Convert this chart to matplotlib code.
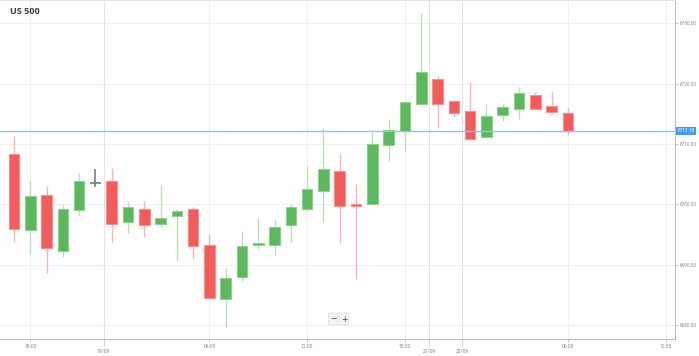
import numpy as np
import matplotlib.pyplot as plt
import matplotlib.transforms as mtransforms
from matplotlib.patches import Rectangle

# hourly candles, US 500
opens = [6708.29, 6695.74, 6701.59, 6692.26, 6699.06, 6703.53, 6703.82, 6697.02, 6699.27,
         6696.74, 6698.06, 6699.27, 6693.26, 6684.23, 6687.96, 6693.26, 6693.21, 6696.52,
         6699.22, 6702.26, 6705.57, 6699.97, 6700.05, 6709.78, 6712.15, 6716.58, 6720.72,
         6717.12, 6715.42, 6711.11, 6714.80, 6715.80, 6718.17, 6716.24, 6715.13]
highs = [6711.32, 6704.03, 6703.09, 6699.84, 6705.14, 6705.85, 6705.97, 6700.55, 6700.55,
         6703.15, 6699.27, 6699.61, 6695.03, 6689.50, 6695.58, 6697.78, 6697.57, 6700.05,
         6706.35, 6712.60, 6708.34, 6703.37, 6712.32, 6714.14, 6717.17, 6731.76, 6721.27,
         6717.12, 6720.27, 6716.68, 6716.68, 6719.49, 6718.61, 6718.66, 6715.91]
lows = [6693.81, 6691.77, 6688.57, 6691.22, 6698.06, 6702.82, 6693.81, 6695.30, 6694.53,
        6696.03, 6690.61, 6690.99, 6684.42, 6679.72, 6687.29, 6692.55, 6691.65, 6693.81,
        6698.84, 6697.12, 6693.54, 6687.57, 6700.05, 6707.13, 6708.89, 6716.58, 6712.60,
        6714.42, 6710.78, 6711.11, 6713.86, 6714.14, 6715.80, 6715.08, 6711.44]
closes = [6695.96, 6701.33, 6692.71, 6699.27, 6703.82, 6703.53, 6696.74, 6699.56, 6696.52,
          6697.73, 6698.84, 6693.04, 6684.42, 6687.74, 6693.04, 6693.47, 6696.29, 6699.56,
          6702.54, 6705.80, 6699.77, 6699.77, 6710.05, 6712.37, 6716.91, 6721.98, 6716.58,
          6715.08, 6710.78, 6714.59, 6716.13, 6718.40, 6715.80, 6715.35, 6712.18]

time_ticks = [1, 12, 18, 24, 34, 40]
time_labels = ['18:00', '06:00', '12:00', '18:00', '06:00', '12:00']
date_ticks = [5.5, 25.5, 27.5]
date_labels = ['19/09', '21/09', '22/09']
price_ticks = [6680, 6690, 6700, 6710, 6720, 6730]
last_price = 6712.18

UP, UP_EDGE, UP_WICK = '#5cb85c', '#8fd08f', '#b9e2b9'
DOWN, DOWN_EDGE, DOWN_WICK = '#f45b5b', '#f88f8f', '#f9b5b5'
FLAT = '#7a7a7a'
TICK_FONT = 'Roboto'

fig = plt.figure(figsize=(6.99, 3.56), dpi=100)
ax = fig.add_axes([0, 17 / 356, 675 / 699, 339 / 356])

# grid
for p in price_ticks:
    ax.axhline(p, color='#f0f0f0', lw=0.8, zorder=0)
for t in time_ticks:
    ax.axvline(t, color='#f0f0f0', lw=0.8, zorder=0)
for t in date_ticks:
    ax.axvline(t, color='#e4e4e4', lw=0.8, zorder=0)

width = 0.65
for i, (o, h, l, c) in enumerate(zip(opens, highs, lows, closes)):
    if c == o:
        ax.vlines(i, l, h, color=FLAT, lw=1.2, zorder=2)
        ax.hlines(o, i - width / 2, i + width / 2, color=FLAT, lw=1.2, zorder=2)
        continue
    up = c > o
    face, edge, wick = (UP, UP_EDGE, UP_WICK) if up else (DOWN, DOWN_EDGE, DOWN_WICK)
    ax.vlines(i, l, h, color=wick, lw=1.0, zorder=1)
    bottom = min(o, c)
    height = max(abs(c - o), 0.25)
    ax.add_patch(Rectangle((i - width / 2, bottom), width, height,
                           facecolor=face, edgecolor=edge, lw=0.8, zorder=2))

# last price line and label
ax.axhline(last_price, color='#8cc4f2', lw=1.0, zorder=3)
trans = mtransforms.blended_transform_factory(ax.transAxes, ax.transData)
ax.text(1.004, last_price, f'{last_price:.2f}', transform=trans, fontsize=3.4,
        family=TICK_FONT, color='white', va='center', ha='left', clip_on=False, zorder=5,
        bbox=dict(boxstyle='square,pad=0.3', fc='#3d9cf0', ec='none'))

ax.set_xlim(-0.86, 40.58)
ax.set_ylim(6677.68, 6733.86)

ax.yaxis.tick_right()
ax.set_yticks(price_ticks)
ax.set_yticklabels([f'{p:.2f}' for p in price_ticks], family=TICK_FONT)
ax.tick_params(axis='y', labelsize=3.4, labelcolor='#8a8a8a', color='#bdbdbd',
               length=2, width=0.6, pad=1.2)

ax.set_xticks(time_ticks)
ax.set_xticklabels(time_labels, family=TICK_FONT)
ax.set_xticks(date_ticks, minor=True)
ax.set_xticklabels(date_labels, minor=True, family=TICK_FONT)
ax.tick_params(axis='x', which='major', labelsize=3.6, labelcolor='#8a8a8a',
               color='#bdbdbd', length=2, width=0.6, pad=1.5)
ax.tick_params(axis='x', which='minor', labelsize=3.6, labelcolor='#8a8a8a',
               color='#cfcfcf', length=5, width=0.6, pad=1.5)

ax.spines['left'].set_visible(False)
ax.spines['top'].set_color('#e6e6e6')
ax.spines['right'].set_color('#bdbdbd')
ax.spines['bottom'].set_color('#bdbdbd')
for s in ['top', 'right', 'bottom']:
    ax.spines[s].set_linewidth(0.8)

# title and zoom controls
ax.text(10 / 675, 1 - 11 / 339, 'US 500', transform=ax.transAxes, fontsize=6.5,
        fontweight='bold', family='Open Sans', color='#3a3a3a', va='center', ha='left')
ax.text(333 / 675, 20 / 339, '\u2212', transform=ax.transAxes, fontsize=5.5,
        color='#444444', ha='center', va='center',
        bbox=dict(boxstyle='round,pad=0.2', fc='#f4f4f4', ec='#dddddd', lw=0.5))
ax.text(344 / 675, 20 / 339, '+', transform=ax.transAxes, fontsize=5.5,
        color='#444444', ha='center', va='center',
        bbox=dict(boxstyle='round,pad=0.2', fc='#f4f4f4', ec='#dddddd', lw=0.5))

fig.savefig('out.png', dpi=100)
